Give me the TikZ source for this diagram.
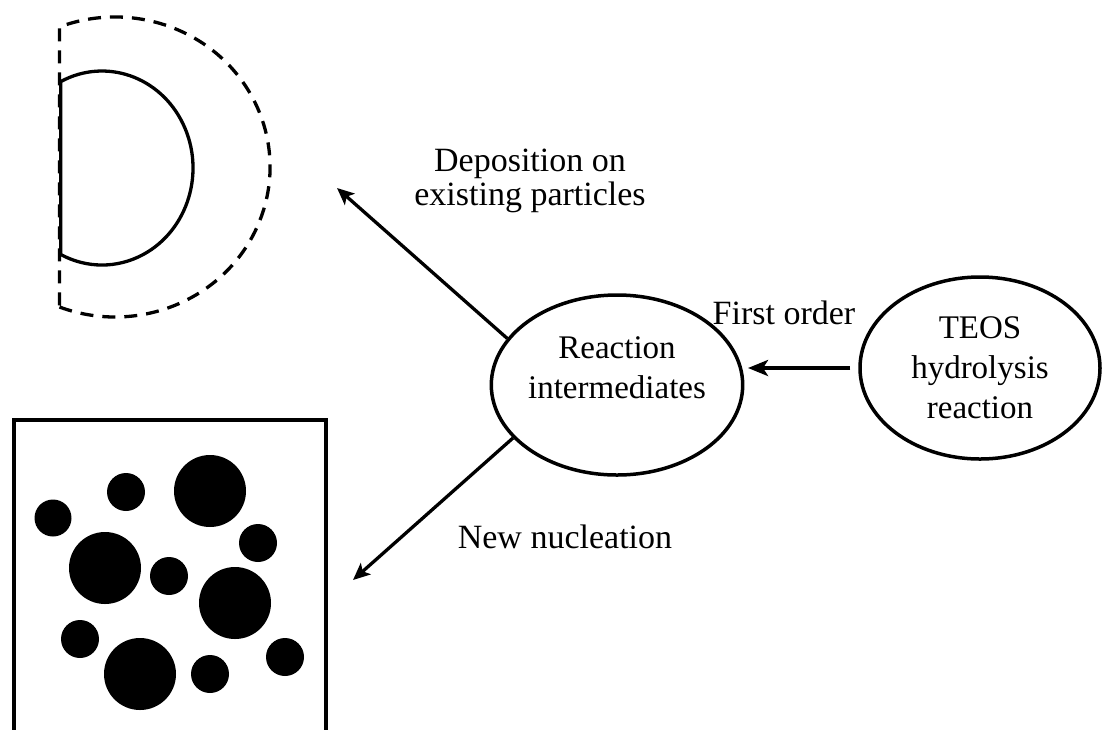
\documentclass[tikz,border=0pt]{standalone}
\usepackage{fontspec}
\setmainfont{Liberation Serif}
\usetikzlibrary{shapes.geometric,arrows.meta}
\begin{document}
\begin{tikzpicture}[x=1pt,y=-1pt,
  ell/.style={draw, ellipse, line width=3.5pt, inner sep=0pt, align=center,
    font=\fontsize{33}{40}\selectfont},
  lab/.style={align=center, inner sep=0pt, font=\fontsize{34}{33.5}\selectfont},
  arr/.style={line width=3.3pt, -{Stealth[length=17pt,width=15pt,inset=4pt]}},
  arrthick/.style={line width=4pt, -{Stealth[length=20pt,width=16pt,inset=5pt]}},
  dashedshell/.style={line width=3.3pt, dash pattern=on 13pt off 9pt},
  solidcore/.style={line width=3.3pt, line join=round},
  frame/.style={line width=4pt, line join=miter},
  particle/.style={fill=black}]
\useasboundingbox (0,0) rectangle (1105,729);

% particle with growing shell
\draw[dashedshell] (59.5,307) arc[start angle=111, end angle=-111, x radius=155, y radius=150] -- cycle;
\draw[solidcore] (60.7,81.6) arc[start angle=-117, end angle=117, x radius=91, y radius=97] -- cycle;

% box of new particles
\draw[frame] (14,745) -- (14,420) -- (326,420) -- (326,745);
\foreach \px/\py/\pr in {53/518/18.5, 126/492/19, 210/491/36, 258/543/19,
  105/568/36, 169/576/19, 235/603/36, 80/639/19, 140/674/36, 210/674/19, 285/657/19}
  \fill[particle] (\px,\py) circle[radius=\pr];

% main nodes
\node[ell, minimum width=250pt, minimum height=180pt] (ri) at (617,385)
  {Reaction\\intermediates\\[-6pt]\mbox{}};
\node[ell, minimum width=240pt, minimum height=182pt] (teos) at (980,368)
  {TEOS\\hydrolysis\\reaction};

% labels
\node[lab, anchor=base] (fo) at (784,324) {First order};
\node[lab, anchor=base] (dep) at (530,205) {Deposition on\\existing particles};
\node[lab, anchor=base] (nuc) at (565,548) {New nucleation};

% arrow end points
\coordinate (depTip) at (337,188);
\coordinate (nucTip) at (353,580);
\coordinate (foTip) at (748,368);

\draw[arr] (ri.157) -- (depTip);
\draw[arr] (ri.207) -- (nucTip);
\draw[arrthick, shorten <=8pt] (teos.west) -- (foTip);
\end{tikzpicture}
\end{document}
